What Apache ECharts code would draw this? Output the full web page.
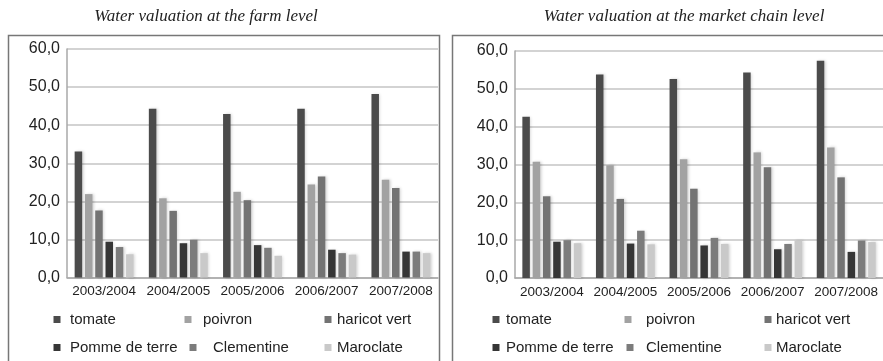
<!DOCTYPE html>
<html>
<head>
<meta charset="utf-8">
<script src="https://cdn.jsdelivr.net/npm/echarts@6/dist/echarts.min.js"></script>
<style>
html,body{margin:0;padding:0;background:#fff;}
#c{width:883px;height:361px;}
</style>
</head>
<body>
<div id="c"></div>
<script>
var categories = ['2003/2004','2004/2005','2005/2006','2006/2007','2007/2008'];
var seriesNames = ['tomate','poivron','haricot vert','Pomme de terre','Clementine','Maroclate'];
var yTicks = [0,10,20,30,40,50,60];
var titles = ['Water valuation at the farm level','Water valuation at the market chain level'];

// farm level
var farmTomate     = [33.1, 44.3, 42.9, 44.3, 48.2];
var farmPoivron    = [21.9, 20.8, 22.5, 24.4, 25.7];
var farmHaricot    = [17.6, 17.5, 20.3, 26.5, 23.5];
var farmPomme      = [9.4, 9.0, 8.5, 7.3, 6.8];
var farmClementine = [8.0, 9.9, 7.8, 6.4, 6.8];
var farmMaroclate  = [6.1, 6.4, 5.7, 6.0, 6.4];

// market chain level
var mktTomate     = [42.6, 53.8, 52.6, 54.3, 57.4];
var mktPoivron    = [30.7, 29.8, 31.4, 33.2, 34.5];
var mktHaricot    = [21.6, 20.9, 23.6, 29.3, 26.6];
var mktPomme      = [9.6, 9.1, 8.6, 7.6, 6.9];
var mktClementine = [10.0, 12.5, 10.6, 9.0, 9.9];
var mktMaroclate  = [9.2, 8.9, 9.0, 9.9, 9.5];

var farmData = [farmTomate, farmPoivron, farmHaricot, farmPomme, farmClementine, farmMaroclate];
var mktData  = [mktTomate, mktPoivron, mktHaricot, mktPomme, mktClementine, mktMaroclate];
var colors = ['#4b4b4b','#a2a2a2','#737373','#363636','#7c7c7c','#c9c9c9'];

var chart = echarts.init(document.getElementById('c'), null, {renderer:'canvas'});

function fmt(v){ return v.toFixed(1).replace('.', ','); }

var grids = [
  {left:67, right:445, top:49, bottom:83.5},
  {left:515, right:0, top:51, bottom:83}
];

function xAxis(i){
  return {
    type:'category', gridIndex:i, data:categories,
    axisLine:{show:true, lineStyle:{color:'#a8a8a8', width:1.5}},
    axisTick:{show:false},
    axisLabel:{fontFamily:'Liberation Sans, Arial, sans-serif', fontSize:13.5, color:'#222', margin:7, interval:0}
  };
}
function yAxis(i){
  return {
    type:'value', gridIndex:i, min:yTicks[0], max:yTicks[yTicks.length-1], interval:10,
    axisLine:{show:true, lineStyle:{color:'#a8a8a8', width:1.5}},
    axisTick:{show:false},
    splitLine:{show:true, lineStyle:{color:'#c4c4c4', width:1.5}},
    axisLabel:{fontFamily:'Liberation Sans, Arial, sans-serif', fontSize:16, color:'#222', margin:7, formatter:fmt}
  };
}

var series = [];
[farmData, mktData].forEach(function(dataset, gi){
  dataset.forEach(function(d, si){
    series.push({
      type:'bar', name:seriesNames[si], xAxisIndex:gi, yAxisIndex:gi,
      data:d, barWidth:7.5, barGap:'37%',
      itemStyle:{color:colors[si], shadowColor:'rgba(0,0,0,0.18)', shadowBlur:3, shadowOffsetX:1.5, shadowOffsetY:0},
      emphasis:{disabled:true}, animation:false
    });
  });
});

// legends: [name, markerCenterX, rowCenterY, textX]
var legendSpecs = [
  [0,57,321,70],[1,188,321,203],[2,328,321,337],
  [3,57,349,70],[4,193,349,213],[5,328,349,337],
  [0,496,321,506],[1,628,321,646],[2,768,321,776],
  [3,496,349,506],[4,630,349,646],[5,768,349,776]
];
var legends = legendSpecs.map(function(s){
  var markerLeft = s[1]-3.5;
  var extra = s[3]-markerLeft-7-5;
  return {
    data:[seriesNames[s[0]]], left:markerLeft, top:s[2]-9, padding:0,
    icon:'rect', itemWidth:7, itemHeight:7, selectedMode:false,
    textStyle:{fontFamily:'Liberation Sans, Arial, sans-serif', fontSize:15, color:'#222', padding:[0,0,0,extra]}
  };
});

var option = {
  backgroundColor:'#fff',
  animation:false,
  title:[
    {text:titles[0], left:201, top:3, textAlign:'center', textStyle:{fontFamily:'Liberation Serif, Times New Roman, serif', fontStyle:'italic', fontWeight:'normal', fontSize:17, color:'#222'}},
    {text:titles[1], left:679, top:3, textAlign:'center', textStyle:{fontFamily:'Liberation Serif, Times New Roman, serif', fontStyle:'italic', fontWeight:'normal', fontSize:17, color:'#222'}}
  ],
  grid:grids,
  xAxis:[xAxis(0), xAxis(1)],
  yAxis:[yAxis(0), yAxis(1)],
  legend:legends,
  series:series,
  graphic:[
    {type:'rect', shape:{x:8.5, y:35.5, width:431, height:340}, style:{fill:null, stroke:'#777', lineWidth:1.5}, silent:true},
    {type:'rect', shape:{x:452.5, y:35.5, width:440, height:340}, style:{fill:null, stroke:'#777', lineWidth:1.5}, silent:true}
  ]
};
chart.setOption(option);
</script>
</body>
</html>
